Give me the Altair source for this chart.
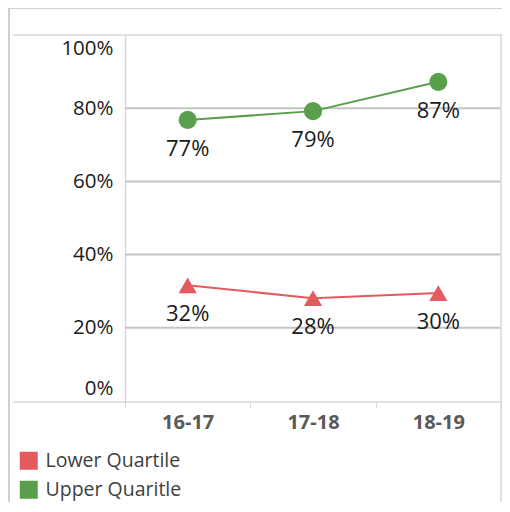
import altair as alt
import pandas as pd

years = ["16-17", "17-18", "18-19"]
series_names = ["Lower Quartile", "Upper Quaritle"]
lower = [0.316, 0.281, 0.295]
upper = [0.768, 0.792, 0.872]
y_ticks = [0, 0.2, 0.4, 0.6, 0.8, 1.0]
grid_vals = [0.2, 0.4, 0.6, 0.8]

RED = "#E35B5E"
GREEN = "#5A9F4C"
FONT = "Open Sans"

rows = []
for name, vals in zip(series_names, [lower, upper]):
    for yr, v in zip(years, vals):
        rows.append({"year": yr, "series": name, "value": v})
df = pd.DataFrame(rows)

W, H = 376, 366
PAD_L, PAD_T, PAD_R, PAD_B = 117, 27, 1, 101

xenc = alt.X("year:N", sort=years, title=None,
             scale=alt.Scale(type="band", paddingInner=0, paddingOuter=0),
             axis=alt.Axis(labelAngle=0, labelFontWeight="bold", labelColor="#595959",
                           labelFontSize=20, labelFont=FONT, tickBand="extent",
                           tickColor="#d9d9d9", tickSize=7, domain=False, labelPadding=4))
yenc = alt.Y("value:Q", title=None, scale=alt.Scale(domain=[0, 1], nice=False),
             axis=alt.Axis(values=y_ticks, format=".0%", grid=False, ticks=False,
                           domainColor="#d9d9d9", domainWidth=1.5,
                           labelFontSize=20.5, labelFont=FONT, labelColor="#1a1a1a",
                           labelPadding=12, labelFlush=True, labelFlushOffset=-3))
leg = alt.Legend(orient="none", legendX=-106, legendY=416, title=None,
                 symbolType="square", symbolSize=324, symbolStrokeWidth=0,
                 symbolOpacity=1,
                 labelFontSize=19.5, labelFont=FONT, labelColor="#404040",
                 rowPadding=8, labelOffset=7)
colors = alt.Scale(domain=series_names, range=[RED, GREEN])

grid = alt.Chart(pd.DataFrame({"g": grid_vals})).mark_rule(
    color="#c4c4c4", strokeWidth=2).encode(y=alt.Y("g:Q", scale=alt.Scale(domain=[0, 1])))

dummy = pd.DataFrame({"a": [0]})
line_style = dict(color="#d9d9d9", strokeWidth=1.5, clip=False)
top_line = alt.Chart(dummy).mark_rule(**line_style).encode(
    x=alt.value(-112), x2=alt.value(W + 1), y=alt.value(0))
bot_line = alt.Chart(dummy).mark_rule(**line_style).encode(
    x=alt.value(-112), x2=alt.value(W + 1), y=alt.value(H + 1))
right_line = alt.Chart(dummy).mark_rule(**line_style).encode(
    x=alt.value(W), y=alt.value(0), y2=alt.value(H + PAD_B))
frame_left = alt.Chart(dummy).mark_rule(color="#d0d0d0", strokeWidth=2, clip=False).encode(
    x=alt.value(-116), y=alt.value(-27), y2=alt.value(H + PAD_B))
frame_top = alt.Chart(dummy).mark_rule(color="#d0d0d0", strokeWidth=2, clip=False).encode(
    x=alt.value(-116), x2=alt.value(W + 2), y=alt.value(-27))

base = alt.Chart(df)
lines = base.mark_line(strokeWidth=2).encode(
    x=xenc, y=yenc, detail="series:N",
    color=alt.Color("series:N", scale=colors, legend=leg))
points = base.mark_point(filled=True, opacity=1, size=330).encode(
    x=xenc, y=yenc,
    color=alt.Color("series:N", scale=colors, legend=leg),
    shape=alt.condition(alt.datum.series == "Lower Quartile",
                        alt.value("triangle-up"), alt.value("circle")))
labels = base.mark_text(dy=29, fontSize=22, font=FONT, color="#1a1a1a").encode(
    x=xenc, y=yenc, text=alt.Text("value:Q", format=".0%"))

chart = alt.layer(frame_left, frame_top, grid, top_line, bot_line, right_line,
                  lines, points, labels).properties(
    width=W, height=H,
    autosize=alt.AutoSizeParams(type="none"),
    padding={"left": PAD_L, "top": PAD_T, "right": PAD_R, "bottom": PAD_B},
).configure_view(stroke=None)

chart.save("out.html", embed_options={"renderer": "svg", "actions": False})
